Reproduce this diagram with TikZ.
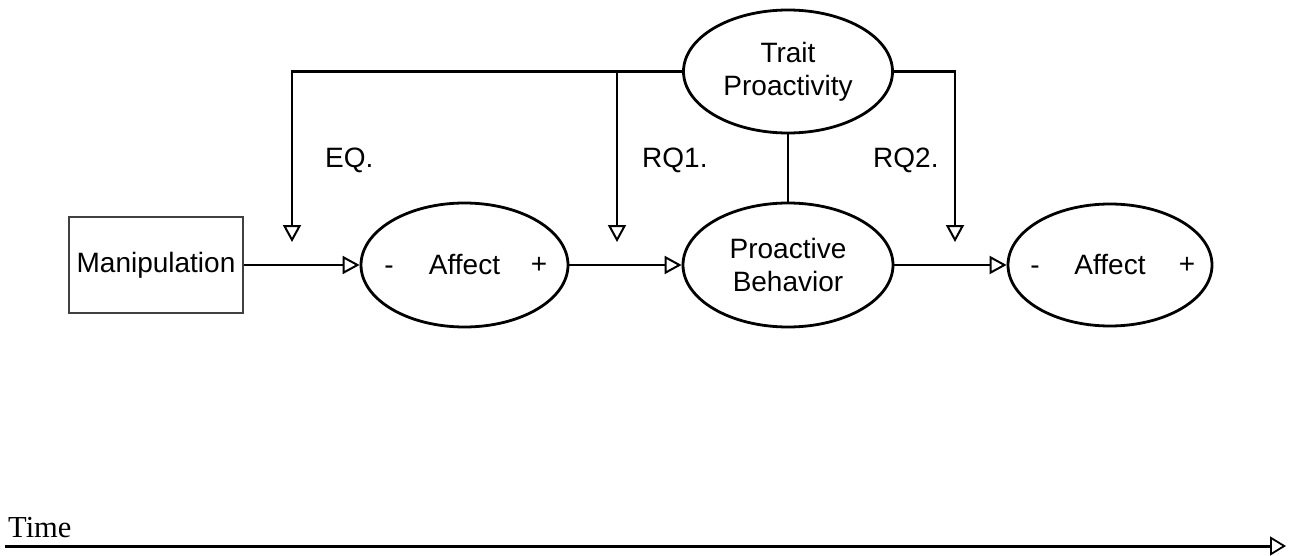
\documentclass[tikz,border=0pt]{standalone}
\usepackage{fontspec}
\setmainfont{Liberation Sans}
\newfontfamily\timesfont{Liberation Serif}
\usetikzlibrary{shapes.geometric,arrows.meta}
\begin{document}
\begin{tikzpicture}[x=1pt,y=-1pt,
  txt/.style={font=\fontsize{28}{33}\selectfont},
  oval/.style={ellipse,draw,line width=2.8pt,inner sep=0pt,txt,align=center},
  conn/.style={line width=2.5pt},
  arr/.style={conn,-{Triangle[open,length=17pt,width=18pt,line width=2pt]}},
  lbl/.style={txt,inner sep=0pt,anchor=base west},
  sign/.style={txt,inner sep=0pt,anchor=base}
  ]
\useasboundingbox (0,0) rectangle (1290,556);
% nodes
\node[draw=black!75,line width=1.8pt,minimum width=174pt,minimum height=96pt,inner sep=0pt,txt] (manip) at (156,265) {Manipulation};
\node[oval,minimum width=207pt,minimum height=124pt] (aff1) at (464.5,265) {Affect};
\node[sign] (minus1) at (389,274) {-};
\node[sign] (plus1) at (539,273) {+};
\node[oval,minimum width=210pt,minimum height=124pt] (pb) at (788,265) {Proactive\\Behavior};
\node[oval,minimum width=209pt,minimum height=123pt] (trait) at (788,71.5) {Trait\\Proactivity};
\node[oval,minimum width=204pt,minimum height=122pt] (aff2) at (1110,265) {Affect};
\node[sign] (minus2) at (1035,274) {-};
\node[sign] (plus2) at (1187,273) {+};
% labels
\node[lbl] (eq) at (325,168) {EQ.};
\node[lbl] (rq1) at (642,168) {RQ1.};
\node[lbl] (rq2) at (873,168) {RQ2.};
% coordinates
\coordinate (eqtop) at (292,71.5);
\coordinate (eqend) at (292,242);
\coordinate (rq1top) at (617,71.5);
\coordinate (rq1end) at (617,242);
\coordinate (rq2top) at (955,71.5);
\coordinate (rq2end) at (955,242);
% connectors
\draw[arr] (trait.west) -- (eqtop) -- (eqend);
\draw[arr] (rq1top) -- (rq1end);
\draw[arr] (trait.east) -- (rq2top) -- (rq2end);
\draw[conn] (trait.south) -- (pb.north);
\draw[arr] (manip.east) -- (aff1.west);
\draw[arr] (aff1.east) -- (pb.west);
\draw[arr] (pb.east) -- (aff2.west);
% time axis
\node[font=\timesfont\fontsize{30.5}{36}\selectfont,anchor=base west,inner sep=0pt] (time) at (8,537) {Time};
\coordinate (t0) at (5,546);
\coordinate (t1) at (1286,546);
\draw[line width=3pt,-{Triangle[open,length=16pt,width=19pt,line width=1.8pt]}] (t0) -- (t1);
\end{tikzpicture}
\end{document}
